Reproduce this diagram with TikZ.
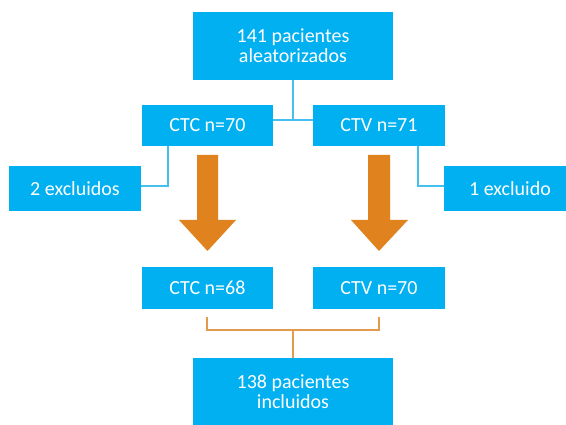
\documentclass[tikz,border=0pt]{standalone}
\usepackage{fontspec}
\setmainfont{Carlito}
\definecolor{boxblue}{HTML}{00B0F0}
\definecolor{lineblue}{HTML}{45BFEE}
\definecolor{arroworange}{HTML}{E0821E}
\definecolor{lineorange}{HTML}{E49A4C}
\tikzset{
  bluebox/.style={rectangle, fill=boxblue, draw=none, text=white, inner sep=0pt,
    align=center, font=\fontsize{20}{20}\selectfont},
  blueline/.style={draw=lineblue, line width=1.5pt},
  orangeline/.style={draw=lineorange, line width=1.5pt},
  bigarrow/.style={fill=arroworange, draw=none}
}
\begin{document}
\begin{tikzpicture}[x=1pt,y=-1pt]
\useasboundingbox (0,0) rectangle (566,425);
% boxes
\node[bluebox, minimum width=200pt, minimum height=68pt] (top) at (293,46) {141 pacientes\\aleatorizados};
\node[bluebox, minimum width=131pt, minimum height=41pt] (ctc1) at (207.5,125.5) {CTC n=70};
\node[bluebox, minimum width=132pt, minimum height=41pt] (ctv1) at (379,125.5) {CTV n=71};
\node[bluebox, minimum width=132pt, minimum height=45pt] (ex2) at (75,188.5) {2 excluidos};
\node[bluebox, minimum width=132pt, minimum height=45pt] (ex1) at (510,188.5) {1 excluido};
\node[bluebox, minimum width=131pt, minimum height=42pt] (ctc2) at (207.5,288) {CTC n=68};
\node[bluebox, minimum width=132pt, minimum height=42pt] (ctv2) at (379,288) {CTV n=70};
\node[bluebox, minimum width=200pt, minimum height=68pt] (bot) at (293,392) {138 pacientes\\incluidos};
% blue connectors
\coordinate (mid1) at (293,120);
\draw[blueline] (top.south) -- (mid1);
\draw[blueline] (ctc1.east |- mid1) -- (ctv1.west |- mid1);
\coordinate (lc) at (168,186);
\coordinate (rc) at (418,186);
\draw[blueline] (lc |- ctc1.south) -- (lc) -- (ex2.east |- lc);
\draw[blueline] (rc |- ctv1.south) -- (rc) -- (ex1.west |- rc);
% big orange arrows
\fill[bigarrow] (197,155) -- (218,155) -- (218,220) -- (236,220) -- (207.5,251) -- (179,220) -- (197,220) -- cycle;
\fill[bigarrow] (368,155) -- (390,155) -- (390,220) -- (408,220) -- (379,251) -- (351,220) -- (368,220) -- cycle;
% orange bracket
\coordinate (lb) at (207,317);
\coordinate (rb) at (379,317);
\coordinate (mb) at (293,330);
\draw[orangeline] (lb) -- (lb |- mb) -- (rb |- mb) -- (rb);
\draw[orangeline] (mb) -- (bot.north);
\end{tikzpicture}
\end{document}
